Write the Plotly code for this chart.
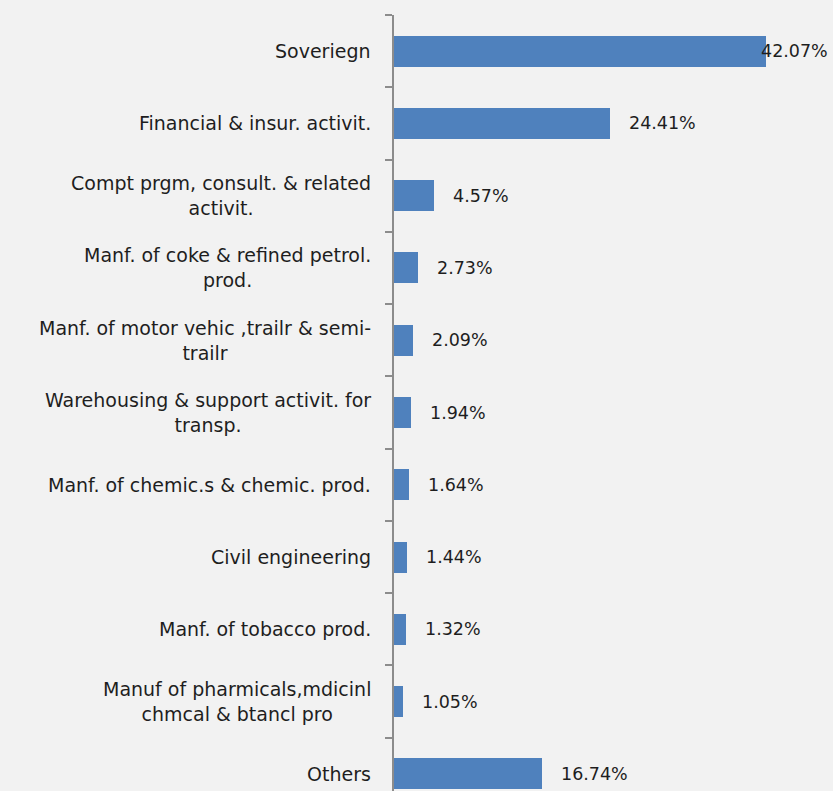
import plotly.graph_objects as go

# Sector exposure, top to bottom
sectors = [
    "Soveriegn",
    "Financial & insur. activit.",
    "Compt prgm, consult. & related<br>activit.",
    "Manf. of coke & refined petrol.<br>prod.",
    "Manf. of motor vehic ,trailr & semi-<br>trailr",
    "Warehousing & support activit. for<br>transp.",
    "Manf. of chemic.s & chemic. prod.",
    "Civil engineering",
    "Manf. of tobacco prod.",
    "Manuf of pharmicals,mdicinl<br>chmcal & btancl pro",
    "Others",
]
weights = [42.07, 24.41, 4.57, 2.73, 2.09, 1.94, 1.64, 1.44, 1.32, 1.05, 16.74]
value_labels = ["42.07%", "24.41%", "4.57%", "2.73%", "2.09%", "1.94%",
                "1.64%", "1.44%", "1.32%", "1.05%", "16.74%"]

W, H = 833, 791
FONT = "DejaVu Sans"
TEXT_COLOR = "#1e1e1e"
AXIS_COLOR = "#8c8c8c"
BAR_COLOR = "#4f81bd"

margin_l, margin_r, margin_t, margin_b = 394, 0, 15, 0
x_max = 49.6
plot_w = W - margin_l - margin_r
px_per_unit = plot_w / x_max

ids = list(range(len(sectors)))

fig = go.Figure(
    go.Bar(
        x=weights,
        y=ids,
        orientation="h",
        width=0.43,
        marker=dict(color=BAR_COLOR, line=dict(width=0)),
        hoverinfo="skip",
    )
)

annotations = []
for i, (name, v, lab) in enumerate(zip(sectors, weights, value_labels)):
    annotations.append(dict(
        x=0, xref="paper", y=i, yref="y",
        text=name, showarrow=False,
        xanchor="right", yanchor="middle", align="center",
        xshift=-21,
        font=dict(family=FONT, size=19, color=TEXT_COLOR),
    ))
    # value label right of the bar; pulled back inside when it would overflow
    label_w = 70
    if v * px_per_unit + 18 + label_w > plot_w:
        annotations.append(dict(
            x=1, xref="paper", y=i, yref="y", text=lab, showarrow=False,
            xanchor="right", yanchor="middle", xshift=-3,
            font=dict(family=FONT, size=17.5, color=TEXT_COLOR),
        ))
    else:
        annotations.append(dict(
            x=v, xref="x", y=i, yref="y", text=lab, showarrow=False,
            xanchor="left", yanchor="middle", xshift=17,
            font=dict(family=FONT, size=17.5, color=TEXT_COLOR),
        ))

fig.update_layout(
    width=W, height=H,
    margin=dict(l=margin_l, r=margin_r, t=margin_t, b=margin_b),
    paper_bgcolor="#f2f2f2",
    plot_bgcolor="#f2f2f2",
    showlegend=False,
    bargap=0,
    xaxis=dict(range=[0, x_max], visible=False, fixedrange=True),
    yaxis=dict(
        type="linear",
        range=[len(sectors) - 0.5 - 19 / 72.3, -0.5],
        tickmode="array",
        tickvals=[k - 0.5 for k in range(len(sectors) + 1)],
        ticktext=["" for _ in range(len(sectors) + 1)],
        ticks="outside", ticklen=7, tickwidth=2, tickcolor=AXIS_COLOR,
        showline=True, linecolor=AXIS_COLOR, linewidth=2,
        showgrid=False, zeroline=False, showticklabels=False,
    ),
    annotations=annotations,
)

fig.write_html("out.html")
